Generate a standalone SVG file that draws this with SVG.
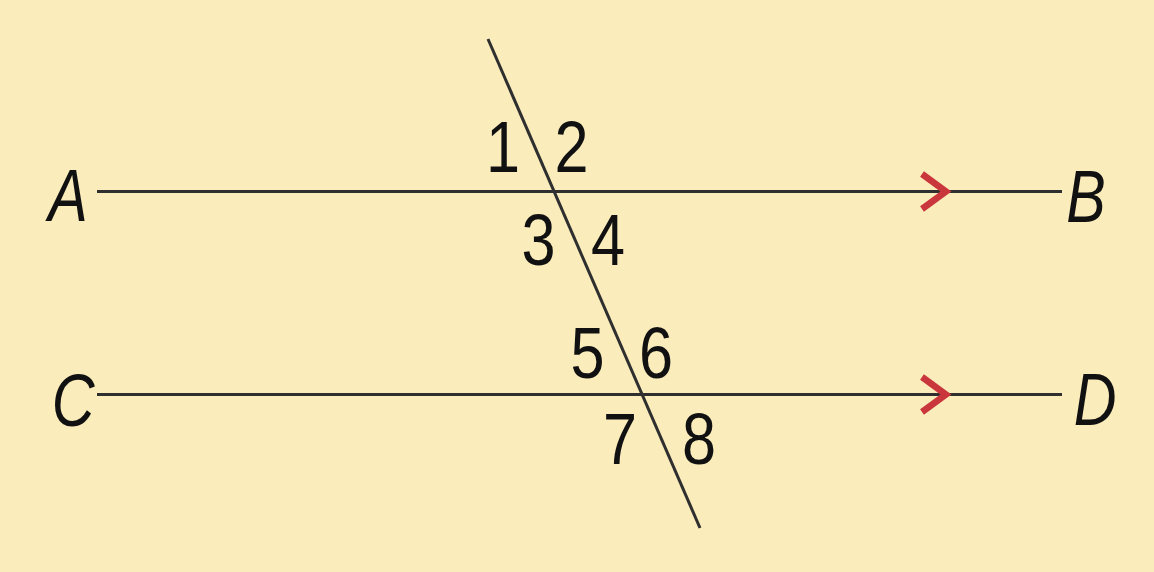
<svg xmlns="http://www.w3.org/2000/svg" width="1154" height="572" viewBox="0 0 1154 572">
<style>
.ln{stroke:#2f2f2f;stroke-width:3;fill:none}
.arr{stroke:#c9373c;stroke-width:6.5;fill:none;stroke-linejoin:miter}
.lab{font-family:"Liberation Sans",Arial,sans-serif;font-style:italic;font-size:74px;fill:#111;text-anchor:middle}
.num{font-family:"Liberation Sans",Arial,sans-serif;font-size:72px;fill:#111;text-anchor:middle}
</style>
<rect width="1154" height="572" fill="#faecbb"/>
<g id="connectors">
<line class="ln" x1="97" y1="191.5" x2="1062" y2="191.5"/>
<line class="ln" x1="97" y1="394.5" x2="1062" y2="394.5"/>
<line class="ln" x1="488" y1="39" x2="700" y2="528"/>
<polyline class="arr" points="922,174 946,191.5 922,209"/>
<polyline class="arr" points="922,377 946,394.5 922,412"/>
</g>
<g id="labels">
<g transform="translate(68,221) scale(0.8,1)"><text class="lab">A</text></g>
<g transform="translate(1086,222) scale(0.8,1)"><text class="lab">B</text></g>
<g transform="translate(73,426) scale(0.8,1)"><text class="lab">C</text></g>
<g transform="translate(1095,425) scale(0.8,1)"><text class="lab">D</text></g>
</g>
<g id="angles">
<g transform="translate(503,172) scale(0.85,1)"><text class="num">1</text></g>
<g transform="translate(571.5,172) scale(0.85,1)"><text class="num">2</text></g>
<g transform="translate(538.5,265) scale(0.85,1)"><text class="num">3</text></g>
<g transform="translate(608,265) scale(0.85,1)"><text class="num">4</text></g>
<g transform="translate(587.5,378) scale(0.85,1)"><text class="num">5</text></g>
<g transform="translate(656,378) scale(0.85,1)"><text class="num">6</text></g>
<g transform="translate(620,464) scale(0.85,1)"><text class="num">7</text></g>
<g transform="translate(699,464) scale(0.85,1)"><text class="num">8</text></g>
</g>
</svg>
